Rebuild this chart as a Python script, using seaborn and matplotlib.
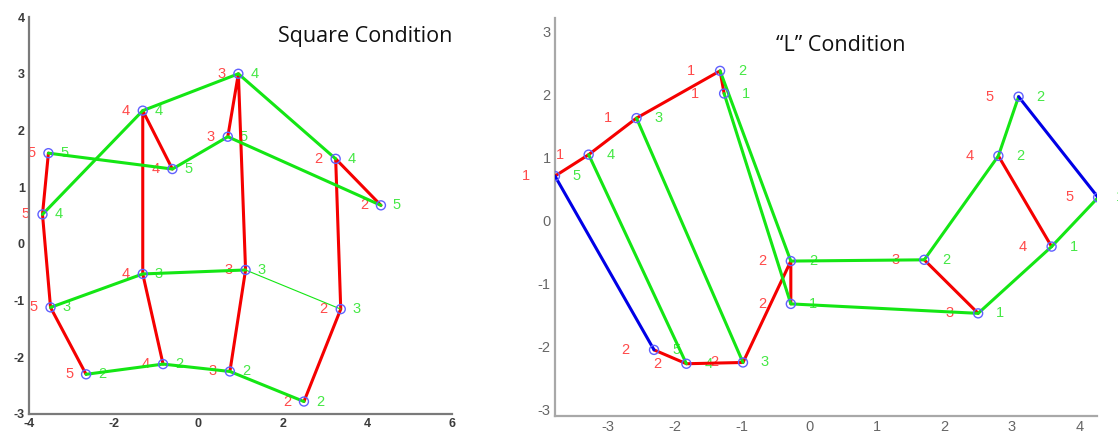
import matplotlib
matplotlib.use("Agg")
import matplotlib.pyplot as plt
import seaborn as sns
import pandas as pd

# ---- Square condition: marker positions and labels ----
sq_x = [0.95, -1.31, 0.70, -3.54, -0.61, 3.25, 4.32, -3.68,
        -1.31, 1.12, -3.49, 3.37, -0.83, 0.75, -2.65, 2.50]
sq_y = [3.00, 2.35, 1.89, 1.60, 1.32, 1.50, 0.68, 0.52,
        -0.53, -0.46, -1.12, -1.15, -2.12, -2.25, -2.30, -2.78]
sq_red = ["3", "4", "3", "5", "4", "2", "2", "5",
          "4", "3", "5", "2", "4", "3", "5", "2"]
sq_green = ["4", "4", "5", "5", "5", "4", "5", "4",
            "3", "3", "3", "3", "2", "2", "2", "2"]
sq_red_paths = [[3, 7, 10, 14], [4, 1, 8, 12], [2, 0, 9, 13], [6, 5, 11, 15]]
sq_green_paths = [[7, 1, 0, 5], [3, 4, 2, 6], [10, 8, 9], [14, 12, 13, 15]]
sq_thin_paths = [[9, 11]]

# ---- "L" condition ----
l_x = [-1.33, -1.27, -2.57, -3.28, -3.78, 3.10, 2.80, 4.28,
       3.59, 1.70, 2.50, -0.28, -0.28, -2.31, -1.83, -0.99]
l_y = [2.38, 2.02, 1.63, 1.05, 0.71, 1.97, 1.03, 0.37,
       -0.41, -0.62, -1.47, -0.64, -1.32, -2.05, -2.27, -2.25]
l_red = ["1", "1", "1", "1", "1", "5", "4", "5",
         "4", "3", "3", "2", "2", "2", "2", "2"]
l_green = ["2", "1", "3", "4", "5", "2", "2", "1",
           "1", "2", "1", "2", "1", "5", "4", "3"]
l_red_paths = [[4, 3, 2, 0, 1], [13, 14, 15, 11, 12], [9, 10], [6, 8]]
l_green_paths = [[0, 11, 9, 6, 5], [1, 12, 10, 8, 7], [2, 15], [3, 14]]
l_blue_paths = [[4, 13], [5, 7]]

LINE_GREEN = "#14e614"
LINE_RED = "#f50000"
LINE_BLUE = "#0000e6"
TXT_RED = "#ff4a4a"
TXT_GREEN = "#45e845"


def draw_paths(ax, xs, ys, paths, color, lw):
    for p in paths:
        seg = pd.DataFrame({"x": [xs[i] for i in p], "y": [ys[i] for i in p]})
        sns.lineplot(data=seg, x="x", y="y", sort=False, estimator=None,
                     color=color, linewidth=lw, ax=ax, zorder=3)


def draw_labels(ax, xs, ys, reds, greens, dl, dr):
    for x, y, r, g in zip(xs, ys, reds, greens):
        ax.annotate(r, (x, y), xytext=(dl, 0), textcoords="offset pixels",
                    ha="center", va="center", color=TXT_RED, fontsize=10.5,
                    family="Liberation Sans", zorder=2, annotation_clip=False)
        ax.annotate(g, (x, y), xytext=(dr, 0), textcoords="offset pixels",
                    ha="center", va="center", color=TXT_GREEN, fontsize=10.5,
                    family="Liberation Sans", zorder=2, annotation_clip=False)


def draw_points(ax, xs, ys):
    sns.scatterplot(x=xs, y=ys, marker="o", s=42, facecolor="none",
                    edgecolor="#6060ff", linewidth=1.0, ax=ax, zorder=4)


sns.set_style("white")
plt.rcParams["axes.unicode_minus"] = False
fig = plt.figure(figsize=(11.18, 4.38), dpi=100)
ax1 = fig.add_axes([0.0259, 0.0548, 0.3784, 0.9062])
ax2 = fig.add_axes([0.4964, 0.0502, 0.4846, 0.9088])

# left panel
draw_labels(ax1, sq_x, sq_y, sq_red, sq_green, -17, 16)
draw_paths(ax1, sq_x, sq_y, sq_red_paths, LINE_RED, 2.2)
draw_paths(ax1, sq_x, sq_y, sq_green_paths, LINE_GREEN, 2.2)
draw_paths(ax1, sq_x, sq_y, sq_thin_paths, LINE_GREEN, 0.8)
draw_points(ax1, sq_x, sq_y)
ax1.set_xlim(-4, 6)
ax1.set_ylim(-3, 4)
ax1.set_xticks([-4, -2, 0, 2, 4, 6])
ax1.set_yticks([-3, -2, -1, 0, 1, 2, 3, 4])
ax1.text(0.589, 0.95, "Square Condition", transform=ax1.transAxes,
         family="Open Sans", fontsize=15.5, ha="left", va="center", color="#111111")

# right panel
draw_labels(ax2, l_x, l_y, l_red, l_green, -29, 22)
draw_paths(ax2, l_x, l_y, l_red_paths, LINE_RED, 2.2)
draw_paths(ax2, l_x, l_y, l_green_paths, LINE_GREEN, 2.2)
draw_paths(ax2, l_x, l_y, l_blue_paths, LINE_BLUE, 2.2)
draw_points(ax2, l_x, l_y)
ax2.set_xlim(-3.78, 4.26)
ax2.set_ylim(-3.10, 3.22)
ax2.set_xticks([-3, -2, -1, 0, 1, 2, 3, 4])
ax2.set_yticks([-3, -2, -1, 0, 1, 2, 3])
ax2.text(0.408, 0.932, "\u201cL\u201d Condition", transform=ax2.transAxes,
         family="Open Sans", fontsize=15.5, ha="left", va="center", color="#111111")

for ax, col, tcol, wt, fs in [(ax1, "#7a7a7a", "#3a3a3a", "bold", 9),
                              (ax2, "#a8a8a8", "#666666", "normal", 10.5)]:
    ax.set_xlabel("")
    ax.set_ylabel("")
    for side in ["top", "right"]:
        ax.spines[side].set_visible(False)
    for side in ["left", "bottom"]:
        ax.spines[side].set_color(col)
        ax.spines[side].set_linewidth(1.6)
    ax.tick_params(direction="in", length=4, width=1, color=col,
                   labelcolor=tcol, labelsize=fs, pad=3)
    for lab in ax.get_xticklabels() + ax.get_yticklabels():
        lab.set_fontweight(wt)
        lab.set_family("Liberation Sans")

fig.savefig("out.png", dpi=100)
